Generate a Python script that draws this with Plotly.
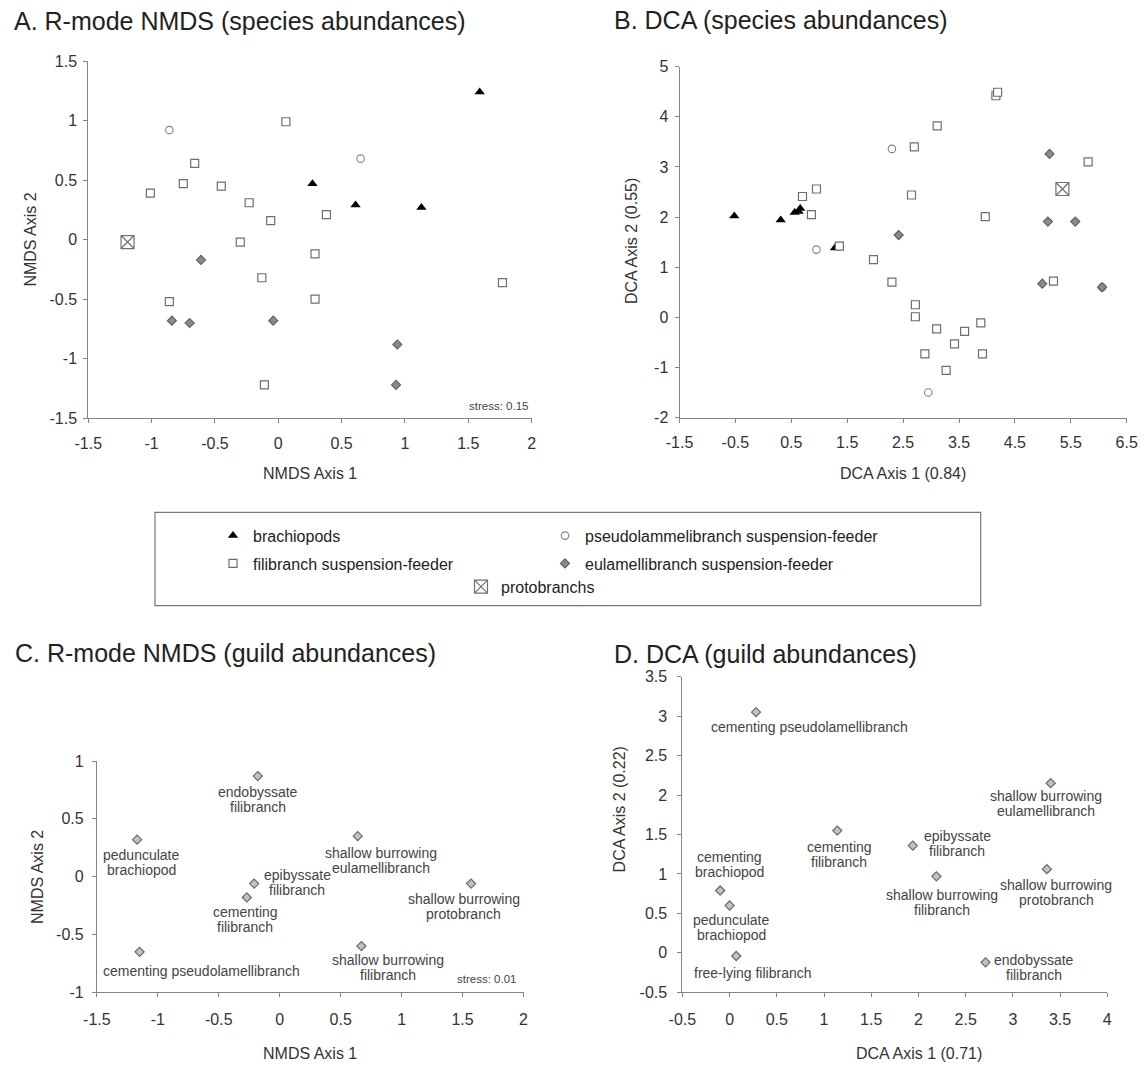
import plotly.graph_objects as go

W, H = 1144, 1065
FONT = "Liberation Sans, Arial, Helvetica, sans-serif"

# ---------------- data ----------------
SERIES = ["brachiopods", "pseudolammelibranch suspension-feeder",
          "filibranch suspension-feeder", "eulamellibranch suspension-feeder",
          "protobranchs"]

# Panel A: R-mode NMDS (species abundances)
A_brach_x = [1.59, 0.27, 0.61, 1.13]
A_brach_y = [1.24, 0.47, 0.29, 0.27]
A_pseudo_x = [-0.86, 0.65]
A_pseudo_y = [0.92, 0.68]
A_fili_x = [0.06, -0.66, -1.01, -0.75, -0.45, -0.23, -0.06, 0.38, -0.30, 0.29, -0.13, 1.77, -0.86, 0.29, -0.11]
A_fili_y = [0.99, 0.64, 0.39, 0.47, 0.45, 0.31, 0.16, 0.21, -0.02, -0.12, -0.32, -0.36, -0.52, -0.50, -1.22]
A_eula_x = [-0.61, -0.84, -0.70, -0.04, 0.94, 0.93]
A_eula_y = [-0.17, -0.68, -0.70, -0.68, -0.88, -1.22]
A_proto_x = [-1.19]
A_proto_y = [-0.02]

# Panel B: DCA (species abundances)
B_brach_x = [-0.52, 0.31, 0.56, 0.63, 0.66, 1.28]
B_brach_y = [2.02, 1.94, 2.09, 2.11, 2.17, 1.38]
B_pseudo_x = [2.30, 0.95, 2.95, 6.06]
B_pseudo_y = [3.36, 1.35, -1.50, 0.60]
B_fili_x = [4.16, 4.19, 3.11, 2.70, 5.81, 0.95, 0.70, 2.65, 0.86, 3.97, 1.36, 1.97,
            2.30, 5.19, 2.72, 2.72, 3.10, 3.60, 3.89, 3.42, 2.89, 3.92, 3.27]
B_fili_y = [4.42, 4.49, 3.82, 3.40, 3.10, 2.56, 2.41, 2.44, 2.05, 2.01, 1.42, 1.15,
            0.70, 0.72, 0.25, 0.01, -0.23, -0.28, -0.11, -0.53, -0.73, -0.73, -1.06]
B_eula_x = [5.12, 5.09, 5.58, 2.42, 4.99, 6.06]
B_eula_y = [3.26, 1.91, 1.91, 1.64, 0.67, 0.60]
B_proto_x = [5.35]
B_proto_y = [2.56]

# Panel C: R-mode NMDS (guild abundances)
C_labels = ["endobyssate\nfilibranch", "pedunculate\nbrachiopod",
            "shallow burrowing\neulamellibranch", "epibyssate\nfilibranch",
            "cementing\nfilibranch", "shallow burrowing\nprotobranch",
            "shallow burrowing\nfilibranch", "cementing pseudolamellibranch"]
C_x = [-0.18, -1.17, 0.64, -0.21, -0.27, 1.57, 0.67, -1.15]
C_y = [0.87, 0.32, 0.35, -0.06, -0.18, -0.06, -0.60, -0.65]

# Panel D: DCA (guild abundances)
D_labels = ["cementing pseudolamellibranch", "shallow burrowing\neulamellibranch",
            "cementing\nfilibranch", "epibyssate\nfilibranch",
            "shallow burrowing\nfilibranch", "shallow burrowing\nprotobranch",
            "cementing\nbrachiopod", "pedunculate\nbrachiopod",
            "free-lying filibranch", "endobyssate\nfilibranch"]
D_x = [0.28, 3.40, 1.14, 1.94, 2.19, 3.36, -0.10, 0.00, 0.07, 2.71]
D_y = [3.05, 2.15, 1.55, 1.36, 0.97, 1.06, 0.79, 0.60, -0.04, -0.12]

# tick values
A_xticks = [-1.5, -1, -0.5, 0, 0.5, 1, 1.5, 2]
A_yticks = [-1.5, -1, -0.5, 0, 0.5, 1, 1.5]
B_xticks = [-1.5, -0.5, 0.5, 1.5, 2.5, 3.5, 4.5, 5.5, 6.5]
B_yticks = [-2, -1, 0, 1, 2, 3, 4, 5]
C_xticks = [-1.5, -1, -0.5, 0, 0.5, 1, 1.5, 2]
C_yticks = [-1, -0.5, 0, 0.5, 1]
D_xticks = [-0.5, 0, 0.5, 1, 1.5, 2, 2.5, 3, 3.5, 4]
D_yticks = [-0.5, 0, 0.5, 1, 1.5, 2, 2.5, 3, 3.5]

# ---------------- styling (pixel layout) ----------------
def px(v):
    return v / W


def py(v):
    return 1 - v / H


STYLES = {
    "brachiopods": dict(symbol="triangle-up", size=9, color="black", line=dict(width=0)),
    "pseudolammelibranch suspension-feeder": dict(symbol="circle", size=7.5, color="white",
                                                   line=dict(color="#808080", width=1.1)),
    "filibranch suspension-feeder": dict(symbol="square", size=8, color="white",
                                         line=dict(color="#6e6e6e", width=1.2)),
    "eulamellibranch suspension-feeder": dict(symbol="diamond", size=7, color="#8a8a8a",
                                              line=dict(color="#5e5e5e", width=1.1)),
    "protobranchs": dict(symbol="square-x", size=13, color="white",
                         line=dict(color="#707070", width=1.2)),
}
LEGEND_OF = {"brachiopods": "legend", "filibranch suspension-feeder": "legend",
             "pseudolammelibranch suspension-feeder": "legend2",
             "eulamellibranch suspension-feeder": "legend2", "protobranchs": "legend3"}

fig = go.Figure()

A_data = [(A_brach_x, A_brach_y), (A_pseudo_x, A_pseudo_y), (A_fili_x, A_fili_y),
          (A_eula_x, A_eula_y), (A_proto_x, A_proto_y)]
B_data = [(B_brach_x, B_brach_y), (B_pseudo_x, B_pseudo_y), (B_fili_x, B_fili_y),
          (B_eula_x, B_eula_y), (B_proto_x, B_proto_y)]

for name, (xs, ys) in zip(SERIES, A_data):
    fig.add_trace(go.Scatter(x=xs, y=ys, mode="markers", name=name, marker=STYLES[name],
                             xaxis="x", yaxis="y", legend=LEGEND_OF[name], legendgroup=name,
                             showlegend=True))
for name, (xs, ys) in zip(SERIES, B_data):
    fig.add_trace(go.Scatter(x=xs, y=ys, mode="markers", name=name, marker=STYLES[name],
                             xaxis="x2", yaxis="y2", legendgroup=name, showlegend=False))

guild_marker = dict(symbol="diamond", size=7, color="#c2c2c2", line=dict(color="#6a6a6a", width=1.2))
fig.add_trace(go.Scatter(x=C_x, y=C_y, mode="markers", marker=guild_marker,
                         xaxis="x3", yaxis="y3", showlegend=False))
fig.add_trace(go.Scatter(x=D_x, y=D_y, mode="markers", marker=guild_marker,
                         xaxis="x4", yaxis="y4", showlegend=False))


def axis(dom, rng, ticks, standoff, anchor):
    return dict(domain=dom, range=rng, tickmode="array", tickvals=ticks,
                ticktext=[f"{v:g}" for v in ticks], showline=True, linecolor="#858585",
                linewidth=1, ticks="outside", ticklen=4, tickcolor="#858585", tickwidth=1,
                showgrid=False, zeroline=False, tickfont=dict(size=16, color="#333"),
                automargin=False, ticklabelstandoff=standoff, anchor=anchor, fixedrange=True)


def legend_box(x, y, gap):
    return dict(x=px(x), y=py(y), xanchor="left", yanchor="top", bgcolor="rgba(0,0,0,0)",
                font=dict(size=16, color="#222"), orientation="v", tracegroupgap=gap)


layout = dict(
    width=W, height=H, autosize=False, margin=dict(l=0, r=0, t=0, b=0),
    paper_bgcolor="white", plot_bgcolor="white", font=dict(family=FONT, color="#333"),
    xaxis=axis([px(88.3), px(531.6)], [-1.5, 2], A_xticks, 6, "y"),
    yaxis=axis([py(418.3), py(61.0)], [-1.5, 1.5], A_yticks, 3, "x"),
    xaxis2=axis([px(679.5), px(1126.7)], [-1.5, 6.5], B_xticks, 6, "y2"),
    yaxis2=axis([py(417.5), py(66.7)], [-2, 5], B_yticks, 3, "x2"),
    xaxis3=axis([px(96.9), px(523.5)], [-1.5, 2], C_xticks, 8, "y3"),
    yaxis3=axis([py(992.3), py(761.0)], [-1, 1], C_yticks, 5, "x3"),
    xaxis4=axis([px(682.4), px(1107.3)], [-0.5, 4], D_xticks, 8, "y4"),
    yaxis4=axis([py(992.3), py(676.7)], [-0.5, 3.5], D_yticks, 7, "x4"),
    legend=legend_box(213, 518.7, 4),
    legend2=legend_box(545, 518.7, 4),
    legend3=legend_box(461, 569.7, 4),
    shapes=[dict(type="rect", xref="paper", yref="paper", x0=px(155), x1=px(980.7),
                 y0=py(605.7), y1=py(512.3), line=dict(color="#777", width=1.2))],
)

ann = []
# panel titles
for text, x, y in [("A. R-mode NMDS (species abundances)", 12, 20.7),
                   ("B. DCA (species abundances)", 612, 20),
                   ("C. R-mode NMDS (guild abundances)", 13, 653),
                   ("D. DCA (guild abundances)", 612, 654)]:
    ann.append(dict(text=text, x=px(x), y=py(y), xref="paper", yref="paper", showarrow=False,
                    xanchor="left", yanchor="middle", font=dict(size=25, color="#222")))
# axis titles
for text, x, y, ang in [("NMDS Axis 1", 310, 473.3, 0), ("NMDS Axis 2", 29.6, 240, -90),
                        ("DCA Axis 1 (0.84)", 903, 473.3, 0), ("DCA Axis 2 (0.55)", 631, 241, -90),
                        ("NMDS Axis 1", 310.2, 1053.3, 0), ("NMDS Axis 2", 37, 877, -90),
                        ("DCA Axis 1 (0.71)", 919, 1053.3, 0), ("DCA Axis 2 (0.22)", 619.4, 809, -90)]:
    ann.append(dict(text=text, x=px(x), y=py(y), xref="paper", yref="paper", showarrow=False,
                    xanchor="center", yanchor="middle", textangle=ang,
                    font=dict(size=16, color="#333")))
# stress labels
ann.append(dict(text="stress: 0.15", x=px(530), y=py(406), xref="paper", yref="paper",
                showarrow=False, xanchor="right", yanchor="middle", font=dict(size=11.5, color="#444")))
ann.append(dict(text="stress: 0.01", x=px(518), y=py(979.3), xref="paper", yref="paper",
                showarrow=False, xanchor="right", yanchor="middle", font=dict(size=11.5, color="#444")))

# point labels (pixel offsets of label centre from marker; +dy = below)
C_offsets = [(0, 23.8), (4.8, 22.5), (23.3, 24.2), (42.9, -1), (-1.5, 22.5), (-7.4, 22.8),
             (26.6, 21.5), (62.2, 19)]
D_offsets = [(53.4, 14.7), (-4.8, 20.3), (1.8, 23.5), (44.7, -2.2), (5.5, 26.3), (9.5, 22.8),
             (9.2, -26.5), (2.2, 22.2), (17.2, 16.7), (48.3, 5)]
LINE = 15
for labels, xs, ys, offs, xr, yr in [(C_labels, C_x, C_y, C_offsets, "x3", "y3"),
                                     (D_labels, D_x, D_y, D_offsets, "x4", "y4")]:
    for lab, x, y, (dx, dy) in zip(labels, xs, ys, offs):
        lines = lab.split("\n")
        n = len(lines)
        for i, ln in enumerate(lines):
            ann.append(dict(text=ln, x=x, y=y, xref=xr, yref=yr, showarrow=False,
                            xanchor="center", yanchor="middle", xshift=dx,
                            yshift=-(dy + (i - (n - 1) / 2) * LINE),
                            font=dict(size=14, color="#444")))

layout["annotations"] = ann
fig.update_layout(**layout)
fig.write_html("out.html")
